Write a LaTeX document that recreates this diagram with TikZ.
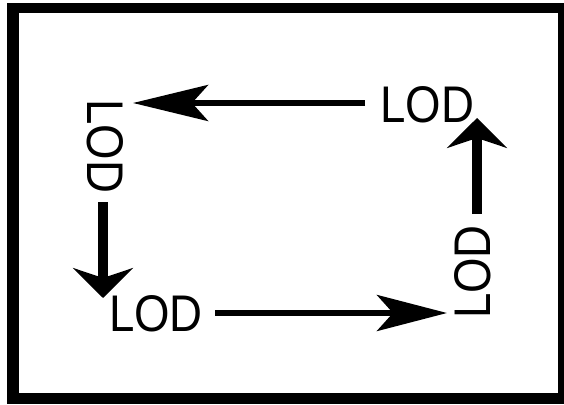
\documentclass[tikz,border=0pt]{standalone}
\usepackage{fontspec}
\setmainfont{Liberation Sans}
\usetikzlibrary{arrows.meta}
\begin{document}
\begin{tikzpicture}[x=1pt,y=-1pt,
  lbl/.style={inner sep=0pt,font=\fontsize{45.6}{50}\selectfont},
  thinarrow/.style={line width=6pt,-{Stealth[length=#1,width=36pt,inset=16pt]}},
  thickarrow/.style={line width=10pt,-{Stealth[length=30pt,width=60pt,inset=10pt]}}]
\useasboundingbox (0,0) rectangle (564,404);
% frame
\fill[black] (7,3) rectangle (564,404);
\fill[white] (19,13) rectangle (558,393);
% labels
\node[lbl] (tr) at (427.5,105) {\scalebox{1}[1.13]{LOD}};
\node[lbl] (bl) at (156,313.5) {\scalebox{1}[1.13]{LOD}};
\node[lbl,rotate=-90] (lt) at (105,146.5) {\scalebox{1}[1.13]{LOD}};
\node[lbl,rotate=90] (rt) at (472.5,272) {\scalebox{1}[1.13]{LOD}};
% arrow ends
\coordinate (a1s) at (365,103);
\coordinate (a1e) at (133,103);
\coordinate (a2s) at (103,202);
\coordinate (a2e) at (103,298);
\coordinate (a3s) at (215,313);
\coordinate (a3e) at (447,313);
\coordinate (a4s) at (477,214);
\coordinate (a4e) at (477,118);
\draw[thinarrow=75pt] (a1s) -- (a1e);
\draw[thickarrow] (a2s) -- (a2e);
\draw[thinarrow=70pt] (a3s) -- (a3e);
\draw[thickarrow] (a4s) -- (a4e);
\end{tikzpicture}
\end{document}
